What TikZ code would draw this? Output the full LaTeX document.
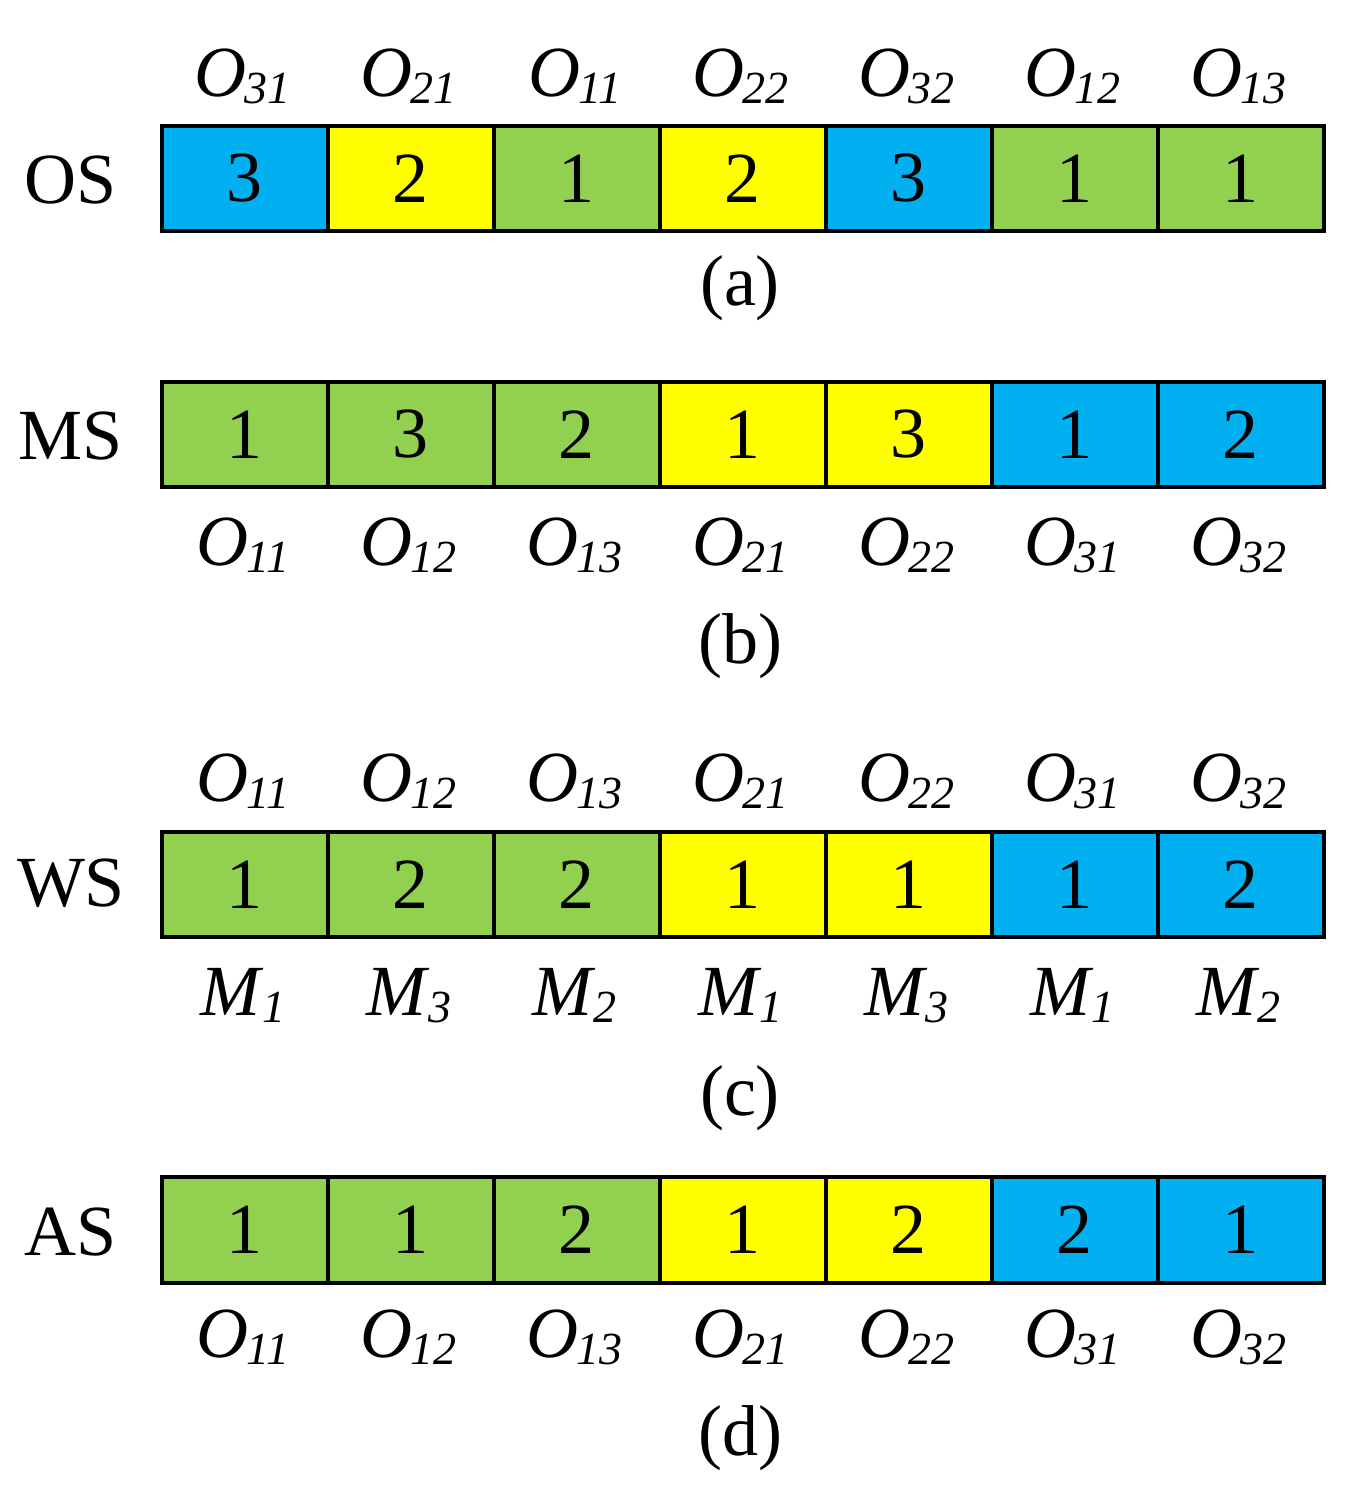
\documentclass[tikz,border=0pt]{standalone}
\usepackage{fontspec}
\setmainfont{Liberation Serif}
\definecolor{cb}{HTML}{00B0F0}
\definecolor{cy}{HTML}{FFFF00}
\definecolor{cg}{HTML}{92D050}
\newcommand{\Osub}[2]{\textit{#1}\kern-2pt\raisebox{-7pt}{\fontsize{46}{46}\selectfont\itshape #2}}
\begin{document}
\begin{tikzpicture}[x=1pt,y=-1pt,font=\fontsize{72}{80}\selectfont,
  cell/.style={draw,line width=4pt,minimum width=165.93pt,minimum height=105.5pt,inner sep=0pt,anchor=north west},
  lab/.style={anchor=base,inner sep=0pt}]
\useasboundingbox (0,0) rectangle (1354,1489);
% (a)
\node[lab] (os) at (71,203) {OS};
\foreach \v/\c [count=\i] in {3/cb,2/cy,1/cg,2/cy,3/cb,1/cg,1/cg}
  \node[cell,fill=\c] (a\i) at ({160+(\i-1)*165.93},123.5) {\v};
\foreach \s [count=\i] in {31,21,11,22,32,12,13}
  \node[lab] (at\i) at ({160+(\i-0.5)*165.93},96) {\Osub{O}{\s}};
\node[lab] (capa) at (740,305) {(a)};
% (b)
\node[lab] (ms) at (71,459) {MS};
\foreach \v/\c [count=\i] in {1/cg,3/cg,2/cg,1/cy,3/cy,1/cb,2/cb}
  \node[cell,fill=\c] (b\i) at ({160+(\i-1)*165.93},379.5) {\v};
\foreach \s [count=\i] in {11,12,13,21,22,31,32}
  \node[lab] (bb\i) at ({160+(\i-0.5)*165.93},565) {\Osub{O}{\s}};
\node[lab] (capb) at (740,663) {(b)};
% (c)
\node[lab] (ws) at (71,906) {WS};
\foreach \v/\c [count=\i] in {1/cg,2/cg,2/cg,1/cy,1/cy,1/cb,2/cb}
  \node[cell,fill=\c] (c\i) at ({160+(\i-1)*165.93},829.5) {\v};
\foreach \s [count=\i] in {11,12,13,21,22,31,32}
  \node[lab] (ct\i) at ({160+(\i-0.5)*165.93},801) {\Osub{O}{\s}};
\foreach \s [count=\i] in {1,3,2,1,3,1,2}
  \node[lab] (cm\i) at ({160+(\i-0.5)*165.93},1015) {\Osub{M}{\s}};
\node[lab] (capc) at (740,1115) {(c)};
% (d)
\node[lab] (as) at (71,1255) {AS};
\foreach \v/\c [count=\i] in {1/cg,1/cg,2/cg,1/cy,2/cy,2/cb,1/cb}
  \node[cell,fill=\c] (d\i) at ({160+(\i-1)*165.93},1175) {\v};
\foreach \s [count=\i] in {11,12,13,21,22,31,32}
  \node[lab] (db\i) at ({160+(\i-0.5)*165.93},1357) {\Osub{O}{\s}};
\node[lab] (capd) at (740,1455) {(d)};
\end{tikzpicture}
\end{document}
